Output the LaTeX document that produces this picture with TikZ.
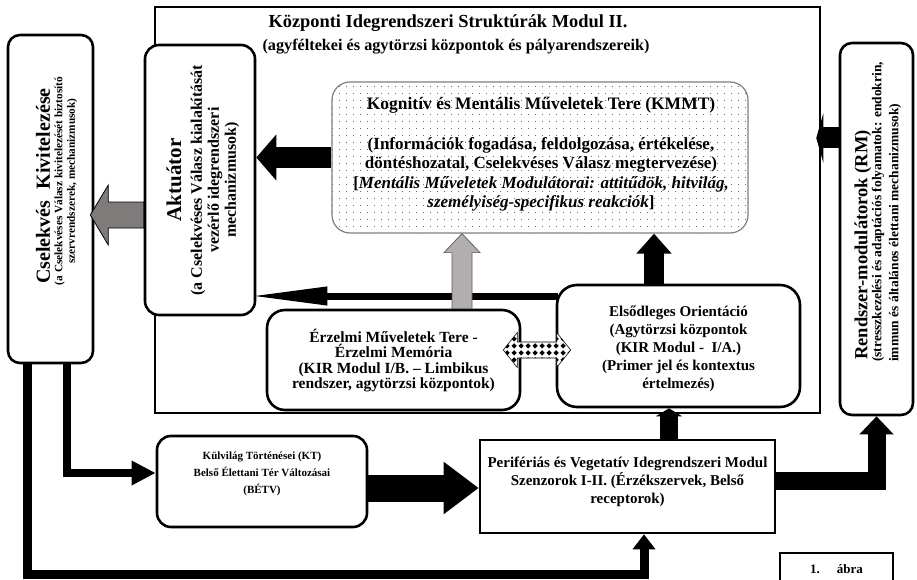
\documentclass[tikz,border=0pt]{standalone}
\usepackage{fontspec}
\setmainfont{Liberation Serif}
\usetikzlibrary{arrows.meta,patterns,calc}
\pgfdeclarepatternformonly{kdots}{\pgfpoint{-1pt}{-1pt}}{\pgfpoint{8pt}{8pt}}{\pgfpoint{7pt}{7pt}}{\pgfpathcircle{\pgfpoint{3.5pt}{3.5pt}}{0.5pt}\pgfusepath{fill}}
\pgfdeclarepatternformonly{diam}{\pgfpointorigin}{\pgfpoint{7pt}{7pt}}{\pgfpoint{7pt}{7pt}}{\pgfpathmoveto{\pgfpoint{3.5pt}{0.5pt}}\pgfpathlineto{\pgfpoint{6.5pt}{3.5pt}}\pgfpathlineto{\pgfpoint{3.5pt}{6.5pt}}\pgfpathlineto{\pgfpoint{0.5pt}{3.5pt}}\pgfpathclose\pgfusepath{fill}}
\definecolor{gdark}{HTML}{7F7B7B}
\definecolor{glight}{HTML}{B2AEAE}
\newcommand\myfs[2]{\fontsize{#1}{#2}\selectfont}
\begin{document}
\begin{tikzpicture}[x=1pt,y=-1pt,
  box/.style={draw, line width=2.6pt, rounded corners=14pt, fill=white, inner sep=0pt},
  txt/.style={inner sep=0pt, align=center},
  line join=miter]
\useasboundingbox (0,0) rectangle (917,580);
\fill[white] (0,0) rectangle (917,580);

% frames
\node[draw, line width=2.5pt, minimum width=665pt, minimum height=406pt, inner sep=0pt] (big) at (487.5,210) {};
\node[box, minimum width=85pt, minimum height=328pt, rounded corners=12pt] (csel) at (50.5,199) {};
\node[box, minimum width=110pt, minimum height=270pt] (aktu) at (200,180) {};
\node[draw=gray, line width=1.2pt, rounded corners=18pt, pattern=kdots, pattern color=black!70, minimum width=416pt, minimum height=151pt, inner sep=0pt] (kmmt) at (540,157.5) {};
\node[box, minimum width=253pt, minimum height=100pt, rounded corners=18pt] (erz) at (393.5,360) {};
\node[box, minimum width=243pt, minimum height=122pt, rounded corners=20pt] (elso) at (678.5,346) {};
\node[box, minimum width=73pt, minimum height=372pt, rounded corners=12pt] (rm) at (876.5,229) {};
\node[box, minimum width=210pt, minimum height=91pt] (kulv) at (262,481.5) {};
\node[box, rounded corners=0pt, minimum width=295pt, minimum height=93pt] (peri) at (627.5,486.5) {};
\node[draw, line width=1.8pt, minimum width=113pt, minimum height=32pt, inner sep=0pt, font=\bfseries\myfs{13}{15}] (abra) at (836.5,569) {1.\hspace{17pt}ábra};

% connectors
\draw[line width=21pt, -{Triangle[length=20pt,width=45pt]}] (kmmt.west) -- (kmmt.west -| aktu.east);

\coordinate (g1) at ([yshift=-35pt]aktu.west);
\coordinate (g2) at (g1 -| csel.east);
\filldraw[fill=gdark, draw=black, line width=0.8pt] ($(g1)+(0,-13)$) -- ($(g2)+(14,-13)$) -- ($(g2)+(14,-30)$) -- ($(g2)+(-4,0)$) -- ($(g2)+(14,30)$) -- ($(g2)+(14,13)$) -- ($(g1)+(0,13)$) -- cycle;

\coordinate (e1) at ([yshift=50pt]elso.west);
\draw[line width=7pt, -{Triangle[length=78pt,width=17pt]}, shorten >=-7pt, shorten <=-2pt] (e1) -- (e1 -| aktu.east);

\coordinate (r1) at ([xshift=68.5pt]erz.north);
\coordinate (r2) at (r1 |- kmmt.south);
\filldraw[fill=glight, draw=gray!70!black, line width=0.7pt] ($(r1)+(-10,0)$) -- ($(r2)+(-10,19)$) -- ($(r2)+(-18,19)$) -- (r2) -- ($(r2)+(18,19)$) -- ($(r2)+(10,19)$) -- ($(r1)+(10,0)$) -- cycle;

\coordinate (b1) at ([xshift=-24.5pt]elso.north);
\draw[line width=20pt, -{Triangle[length=20pt,width=34pt]}] (b1) -- (b1 |- kmmt.south);

\coordinate (m1) at ([yshift=91pt]rm.west);
\draw[line width=21pt, -{Triangle[length=7pt,width=49pt]}, shorten >=-5pt] (m1) -- (m1 -| big.east);

\coordinate (p1) at ([xshift=41.5pt]peri.north);
\draw[line width=18pt, -{Triangle[length=8pt,width=26pt]}] (p1) -- (p1 |- elso.south);

\coordinate (p2) at ([yshift=5.5pt]peri.east);
\draw[line width=18pt, -{Triangle[length=18pt,width=33pt]}] (p2) -| (rm.south);

\coordinate (k1) at ([yshift=-6.5pt]kulv.east);
\draw[line width=27pt, -{Triangle[length=35pt,width=50pt]}] (k1) -- (k1 -| peri.west);

\coordinate (c1) at ([xshift=16.5pt]csel.south);
\coordinate (k2) at ([yshift=8.5pt]kulv.west);
\draw[line width=7.5pt, -{Triangle[length=24pt,width=23pt]}] (c1) |- (k2);

\coordinate (c2) at ([xshift=-23.5pt]csel.south);
\coordinate (p3) at ([xshift=16.5pt]peri.south);
\coordinate (low) at (0,574);
\draw[line width=9pt, -{Triangle[length=15pt,width=22pt]}] (c2) -- (c2 |- low) -| (p3);

\coordinate (dL) at ([xshift=-18pt,yshift=10pt]erz.east);
\coordinate (dR0) at (dL -| elso.west);
\coordinate (dR) at ([xshift=15pt]dR0);
\filldraw[preaction={fill=white}, pattern=diam, draw=black, line width=0.6pt] ($(dL)+(14,-17.5)$) -- ($(dL)+(14,-8)$) -- ($(dR)+(-14,-8)$) -- ($(dR)+(-14,-17.5)$) -- (dR) -- ($(dR)+(-14,17.5)$) -- ($(dR)+(-14,8)$) -- ($(dL)+(14,8)$) -- ($(dL)+(14,17.5)$) -- (dL) -- cycle;

% texts
\node[txt, font=\bfseries\myfs{18.4}{20}] (tit) at (448,23) {Központi Idegrendszeri Struktúrák Modul II.};
\node[txt, font=\bfseries\myfs{16.2}{18}] (sub) at (456,47) {(agyféltekei és agytörzsi központok és pályarendszereik)};

\node[txt, rotate=90, font=\bfseries\myfs{20}{24}] (cselt) at (43,186) {Cselekvés\hspace{0.3em} Kivitelezése};
\node[txt, rotate=90, font=\bfseries\myfs{11.3}{12.5}] (csels) at (66,181) {(a Cselekvéses Válasz kivitelezését biztosító\\szervrendszerek, mechanizmusok)};

\begin{scope}
\clip (aktu.south west) rectangle ([xshift=-18pt]aktu.north east);
\node[txt, rotate=90, font=\bfseries\myfs{21}{24}] (aktut) at (174,180) {Aktuátor};
\node[txt, rotate=90, font=\bfseries\myfs{16}{17}] (aktus) at (215,180) {(a Cselekvéses Válasz kialakítását\\vezérlő idegrendszeri\\mechanizmusok)};
\end{scope}

\node[txt, font=\bfseries\myfs{17.5}{20}] (kmmtt) at (541,105) {Kognitív és Mentális Műveletek Tere (KMMT)};
\node[txt, font=\bfseries\myfs{17}{19.5}] (kmmts) at (541,174.5) {(Információk fogadása, feldolgozása, értékelése,\\döntéshozatal, Cselekvéses Válasz megtervezése)\\{[}\textit{Mentális Műveletek Modulátorai: attitűdök, hitvilág,}\\\textit{személyiség-specifikus reakciók}]};

\node[txt, font=\bfseries\myfs{15.5}{15.5}] (erzt) at (393.5,360.5) {Érzelmi Műveletek Tere -\\Érzelmi Memória\\(KIR Modul I/B. – Limbikus\\rendszer, agytörzsi központok)};

\node[txt, font=\bfseries\myfs{15}{18}] (elsot) at (678.5,349) {Elsődleges Orientáció\\(Agytörzsi központok\\(KIR Modul -\hspace{0.5em}I/A.)\\(Primer jel és kontextus\\értelmezés)};

\node[txt, font=\bfseries\myfs{15}{18}] (perit) at (627.5,481.5) {Perifériás és Vegetatív Idegrendszeri Modul\\Szenzorok I-II. (Érzékszervek, Belső\\receptorok)};

\node[txt, font=\bfseries\myfs{11}{17}] (kulvt) at (262,474) {Külvilág Történései (KT)\\Belső Élettani Tér Változásai\\(BÉTV)};

\node[txt, rotate=90, anchor=west, font=\bfseries\myfs{18.5}{20}] (rmt) at (863,360) {Rendszer-modulátorok (RM)};
\node[txt, rotate=90, anchor=west, align=left, font=\bfseries\myfs{13.5}{17}] (rms) at (886.5,362) {(stresszkezelési és adaptációs folyamatok: endokrin,\\immun és általános élettani mechanizmusok)};
\end{tikzpicture}
\end{document}
